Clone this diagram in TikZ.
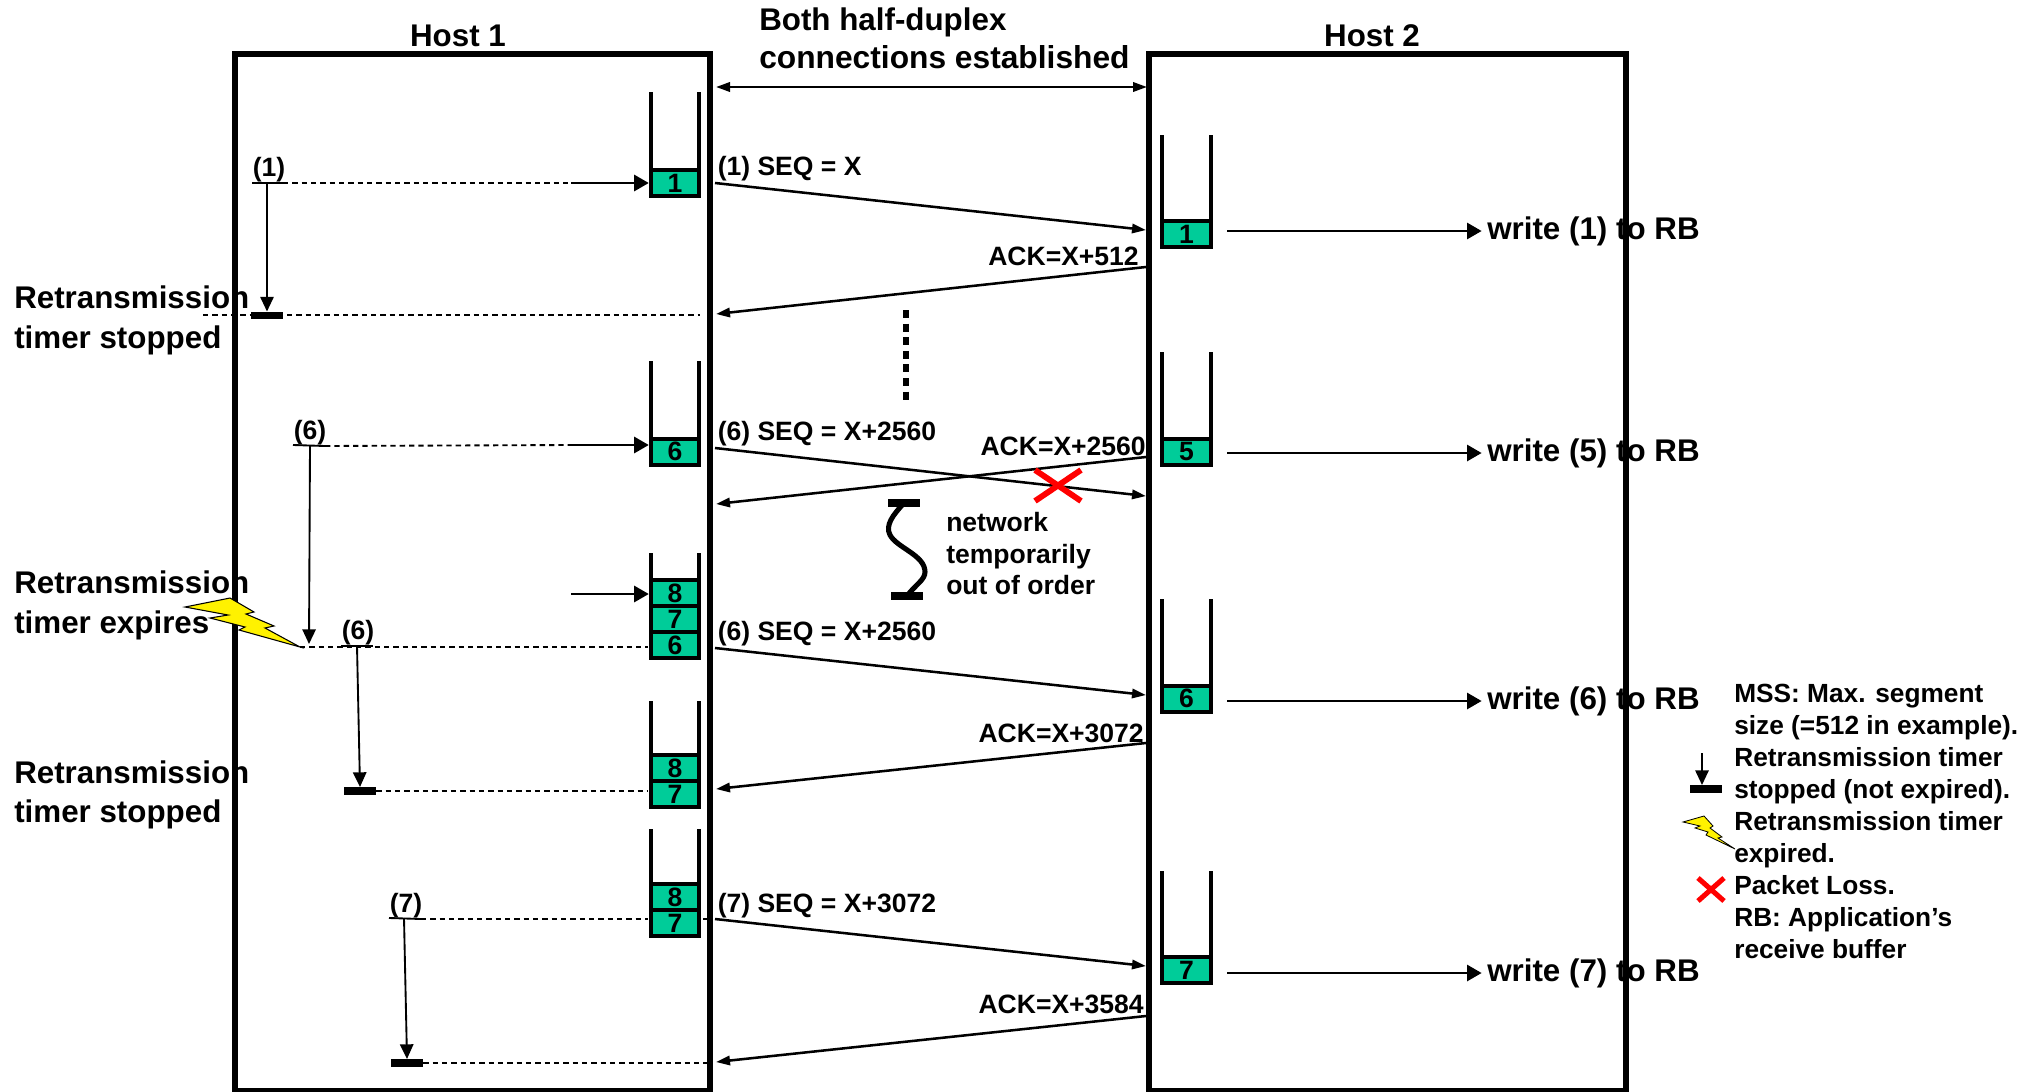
\documentclass[tikz,border=0pt]{standalone}
\usepackage{fontspec}
\setmainfont{Liberation Sans}
\usepackage{xcolor}
\usetikzlibrary{arrows.meta, positioning, calc}
\definecolor{cellgreen}{HTML}{00CC99}

\begin{document}
\begin{tikzpicture}[
    x=0.75pt, y=-0.75pt,
    hostbox/.style={draw, line width=4.5pt, minimum height=777.75pt, inner sep=0pt},
    bigtext/.style={font=\fontsize{23.5pt}{29.25pt}\selectfont\bfseries, inner sep=0pt, align=left},
    smalltext/.style={font=\fontsize{19.9pt}{24pt}\selectfont\bfseries, inner sep=0pt, align=left},
    legendtext/.style={font=\fontsize{19.7pt}{24pt}\selectfont\bfseries, inner sep=0pt, align=left},
    cellbox/.style={draw, line width=3pt, fill=cellgreen, minimum width=36.3pt, minimum height=19.5pt, inner sep=0pt, outer sep=0pt, font=\fontsize{19.9pt}{24pt}\selectfont\bfseries},
    wall/.style={line width=3pt},
    msg/.style={-{Triangle[length=10.5pt,width=7pt]}, line width=1.9pt},
    biarrow/.style={{Triangle[length=10.5pt,width=7pt]}-{Triangle[length=10.5pt,width=7pt]}, line width=1.9pt},
    wrarrow/.style={-{Triangle[length=11pt,width=12pt]}, line width=2.2pt},
    tmarrow/.style={-{Triangle[length=11pt,width=10pt]}, line width=1.4pt},
    tick/.style={line width=1.4pt},
    dashline/.style={line width=1.4pt, dash pattern=on 4pt off 3pt},
    stopbar/.style={fill=black, minimum width=24pt, minimum height=5.6pt, inner sep=0pt},
    bolt/.style={fill=yellow, draw=black, line width=0.8pt, line join=miter},
    lost/.style={draw=red, line width=4.4pt}
]
\useasboundingbox (0,0) rectangle (2031,1092);
% Hosts
\node[hostbox, minimum width=356.25pt] (host1) at (472.5,572.5) {};
\node[hostbox, minimum width=357.75pt] (host2) at (1387.5,572.5) {};
\node[bigtext, anchor=base] (h1) at (458,46) {Host 1};
\node[bigtext, anchor=base] (h2) at (1372,46) {Host 2};
% Timer lines (under the buffers)
\coordinate (t1a) at (203,315);
\coordinate (t1b) at (700,315);
\coordinate (s6a) at (325,446);
\coordinate (s6b) at (572,445);
\coordinate (s6c) at (300,647);
\coordinate (s6d) at (648,647);
\coordinate (s1a) at (283,183);
\coordinate (s1b) at (572,183);
\coordinate (s7a) at (421,919);
\coordinate (s7b) at (648,919);
\draw[dashline] (s1a) -- (s1b);
\draw[dashline] (t1a) -- (t1b);
\draw[dashline] (s6a) -- (s6b);
\draw[dashline] (s6c) -- (s6d);
\draw[dashline] (s7a) -- (s7b);
% Send buffer, Host 1
\node[cellbox] (qa1) at (675,183) {1};
\node[cellbox] (qb6) at (675,451.5) {6};
\node[cellbox] (qc8) at (675,593) {8};
\node[cellbox] (qc7) at (675,619) {7};
\node[cellbox] (qc6) at (675,645) {6};
\node[cellbox] (qd8) at (675,768) {8};
\node[cellbox] (qd7) at (675,794) {7};
\node[cellbox] (qe8) at (675,897) {8};
\node[cellbox] (qe7) at (675,923) {7};
% Receive buffer, Host 2
\node[cellbox] (ra1) at (1186.5,234) {1};
\node[cellbox] (rb5) at (1186.5,451.5) {5};
\node[cellbox] (rc6) at (1186.5,698.5) {6};
\node[cellbox] (rd7) at (1186.5,970) {7};
\foreach \cellname/\len in {qa1/78, qb6/78, qc8/27, qd8/54, qe8/55, ra1/86, rb5/87, rc6/87, rd7/86} {
    \draw[wall] (\cellname.north west) -- ++(0,-\len);
    \draw[wall] (\cellname.north east) -- ++(0,-\len);
}
% Arrows into the send buffer
\coordinate (in1) at (571,183);
\coordinate (in6) at (571,445);
\coordinate (in8) at (571,594);
\draw[wrarrow] (in1) -- ([xshift=-1.5pt]in1 -| qa1.west);
\draw[wrarrow] (in6) -- ([xshift=-1.5pt]in6 -| qb6.west);
\draw[wrarrow] (in8) -- ([xshift=-1.5pt]in8 -| qc8.west);
% Timers
\coordinate (tk1a) at (252,183);
\coordinate (tk6a) at (293,445);
\coordinate (tk6c) at (341,646);
\coordinate (tk7a) at (389,918);
\coordinate (tm1) at (267,183);
\coordinate (tm6) at (310,445);
\coordinate (tm6c) at (357,646);
\coordinate (tm7) at (404,918);
\coordinate (exp6) at (309,644);
\node[stopbar] (bar1) at (267,315.5) {};
\node[stopbar] (bar6) at (360,791) {};
\node[stopbar] (bar7) at (407,1063) {};
\draw[tick] (tk1a) -- (s1a);
\draw[tick] (tk6a) -- (s6a);
\draw[tick] (tk6c) -- ++(32,0);
\draw[tick] (tk7a) -- (s7a);
\draw[tmarrow] (tm1) -- (bar1.north);
\draw[tmarrow] (tm6) -- (exp6);
\draw[tmarrow] (tm6c) -- (bar6.north);
\draw[tmarrow] (tm7) -- (bar7.north);
\draw[dashline] (bar6.east) -- (s6d |- bar6.east);
\draw[dashline] (bar7.east) -- (712,1063);
\draw[dashline] (qe7.east) ++(4,-4) -- (712,919);
\node[smalltext, anchor=base] (l1) at (269,176) {(1)};
\node[smalltext, anchor=base] (l6) at (310,439) {(6)};
\node[smalltext, anchor=base] (l6r) at (358,639) {(6)};
\node[smalltext, anchor=base] (l7) at (406,912) {(7)};
% Expiry bolt
\draw[bolt] (185,607) -- (230,598) -- (254,612) -- (246,614) -- (274,626) -- (265,628) -- (300,647) -- (239,630) -- (245,627) -- (210,618) -- (228,615) -- cycle;
% Messages
\coordinate (m1a) at (715,183);
\coordinate (m1b) at (1146,230);
\coordinate (k1a) at (1146,267);
\coordinate (k1b) at (716,314);
\coordinate (m6a) at (715,448);
\coordinate (m6b) at (1146,496);
\coordinate (k5a) at (1146,457);
\coordinate (k5b) at (716,504);
\coordinate (m6c) at (715,648);
\coordinate (m6d) at (1146,695);
\coordinate (k6a) at (1146,743);
\coordinate (k6b) at (716,789);
\coordinate (m7a) at (715,919);
\coordinate (m7b) at (1146,966);
\coordinate (k7a) at (1146,1016);
\coordinate (k7b) at (716,1062);
\coordinate (cona) at (716,87);
\coordinate (conb) at (1147,87);
\draw[biarrow] (cona) -- (conb);
\draw[msg] (m1a) -- (m1b);
\draw[msg] (k1a) -- (k1b);
\draw[msg] (m6a) -- (m6b);
\draw[msg] (k5a) -- (k5b);
\draw[msg] (m6c) -- (m6d);
\draw[msg] (k6a) -- (k6b);
\draw[msg] (m7a) -- (m7b);
\draw[msg] (k7a) -- (k7b);
% Message labels
\node[bigtext, anchor=base west] (both) at (759,30) {Both half-duplex};
\node[bigtext, anchor=base west, font=\fontsize{23.8pt}{29.25pt}\selectfont\bfseries] (conn) at (759,68) {connections established};
\node[smalltext, anchor=base west] (seq1) at (717.5,175) {(1) SEQ = X};
\node[smalltext, anchor=base west] (seq6) at (717.5,440) {(6) SEQ = X+2560};
\node[smalltext, anchor=base west] (seq6r) at (717.5,640) {(6) SEQ = X+2560};
\node[smalltext, anchor=base west] (seq7) at (717.5,912) {(7) SEQ = X+3072};
\node[smalltext, anchor=base east] (ack1) at (1139,265) {ACK=X+512};
\node[smalltext, anchor=base east] (ack5) at (1146,455) {ACK=X+2560};
\node[smalltext, anchor=base east] (ack6) at (1144,742) {ACK=X+3072};
\node[smalltext, anchor=base east] (ack7) at (1144,1013) {ACK=X+3584};
% Dots, loss and outage
\coordinate (dotsa) at (905.6,310);
\coordinate (dotsb) at (905.6,405);
\draw[line width=4.5pt, dash pattern=on 6pt off 4.2pt] (dotsa) -- (dotsb);
\draw[lost] (1035,470) -- (1081,501);
\draw[lost] (1081,470) -- (1035,501);
\node[stopbar] (outa) at (904,503) {};
\node[stopbar] (outb) at (907,596) {};
\draw[line width=3.8pt] (outa.center) .. controls (893,515) and (885,525) .. (890,535) .. controls (897,548) and (925,555) .. (925,572) .. controls (925,580) and (915,585) .. (outb.center);
\node[smalltext, anchor=base west] (net1) at (946,531) {network};
\node[smalltext, anchor=base west] (net2) at (946,563) {temporarily};
\node[smalltext, anchor=base west] (net3) at (946,594) {out of order};
% Writes to the receive buffer
\coordinate (wr1) at (1227,231);
\coordinate (wr5) at (1227,453);
\coordinate (wr6) at (1227,701);
\coordinate (wr7) at (1227,973);
\node[bigtext, anchor=west] (w1) at (1487,231) {write (1) to RB};
\node[bigtext, anchor=west] (w5) at (1487,453) {write (5) to RB};
\node[bigtext, anchor=west] (w6) at (1487,701) {write (6) to RB};
\node[bigtext, anchor=west] (w7) at (1487,973) {write (7) to RB};
\draw[wrarrow] (wr1) -- ([xshift=-4pt]wr1 -| w1.west);
\draw[wrarrow] (wr5) -- ([xshift=-4pt]wr5 -| w5.west);
\draw[wrarrow] (wr6) -- ([xshift=-4pt]wr6 -| w6.west);
\draw[wrarrow] (wr7) -- ([xshift=-4pt]wr7 -| w7.west);
% Timer captions
\node[bigtext, anchor=base west] (ca1) at (14,308) {Retransmission};
\node[bigtext, anchor=base west] (ca2) at (14,348) {timer stopped};
\node[bigtext, anchor=base west] (cb1) at (14,593) {Retransmission};
\node[bigtext, anchor=base west] (cb2) at (14,633) {timer expires};
\node[bigtext, anchor=base west] (cc1) at (14,783) {Retransmission};
\node[bigtext, anchor=base west] (cc2) at (14,822) {timer stopped};
% Legend
\node[legendtext, anchor=north west] (legend) at (1734,684) {MSS: Max. segment\\size (=512 in example).\\Retransmission timer\\stopped (not expired).\\Retransmission timer\\expired.\\Packet Loss.\\RB: Application’s\\receive buffer};
\coordinate (lgtop) at (1702,753);
\node[stopbar] (lgbar) at (1706,789) {};
\draw[tmarrow] (lgtop) -- (lgtop |- lgbar.north);
\draw[bolt, line width=0.6pt] (1683,822) -- (1704,816) -- (1713,826) -- (1710,828) -- (1722,837) -- (1718,838) -- (1735,849) -- (1706,835) -- (1708,832) -- (1695,828) -- (1700,826) -- cycle;
\draw[lost, line width=3.8pt] (1698,878) -- (1724,901);
\draw[lost, line width=3.8pt] (1724,878) -- (1698,901);
\end{tikzpicture}
\end{document}
